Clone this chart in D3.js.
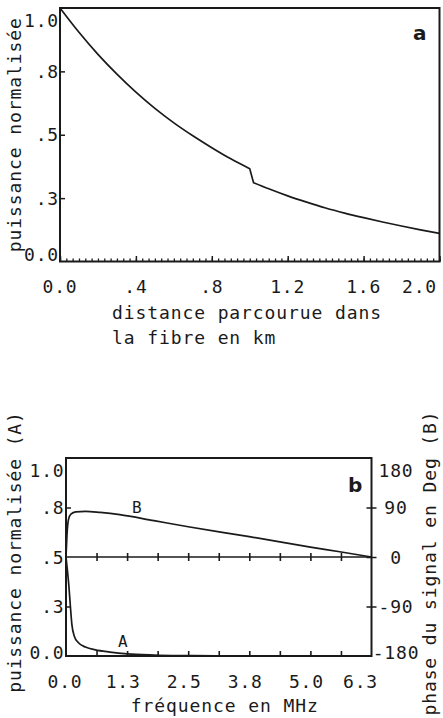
<!DOCTYPE html>
<html>
<head>
<meta charset="utf-8">
<script src="https://cdn.jsdelivr.net/npm/d3@7"></script>
<style>
  body { margin: 0; background: #fff; }
  text { font-family: "DejaVu Sans Mono", monospace; fill: #1a1a1a; letter-spacing: 0.8px; }
</style>
</head>
<body>
<div id="viz"></div>
<script>
var W = 443, H = 718;

// panel a : puissance le long de la fibre (saut a ~1 km)
var distKm    = [0, 0.1, 0.2, 0.3, 0.4, 0.5, 0.6, 0.7, 0.8, 0.9, 1.0, 1.02, 1.1, 1.2, 1.3, 1.4, 1.5, 1.6, 1.7, 1.8, 1.9, 2.0];
var puissDist = [1.0, 0.904, 0.817, 0.739, 0.668, 0.604, 0.547, 0.496, 0.449, 0.405, 0.366, 0.311, 0.287, 0.259, 0.234, 0.211, 0.191, 0.173, 0.156, 0.140, 0.125, 0.111];
var stepIndex = 11; // first point after the step

// panel b : reponse en frequence
var freqA  = [0, 0.03, 0.06, 0.09, 0.12, 0.17, 0.25, 0.4, 0.6, 0.9, 1.25, 1.8, 2.5, 3.5, 6.25];
var puissA = [0.50, 0.43, 0.35, 0.25, 0.16, 0.10, 0.068, 0.045, 0.031, 0.020, 0.011, 0.005, 0.002, 0.0, 0.0];
var freqB  = [0, 0.02, 0.05, 0.1, 0.2, 0.4, 0.7, 1.1, 1.8, 2.5, 3.75, 5.0, 5.6, 6.25];
var phaseB = [0, 40, 68, 78, 82, 83, 81, 77, 66, 55, 37, 18, 9.5, 0];

// ticks
var yTickVals = [0, 0.25, 0.5, 0.75, 1.0];
var yTickLabels = ["0.0", ".3", ".5", ".8", "1.0"];
var distTicks = [0, 0.4, 0.8, 1.2, 1.6, 2.0];
var distLabels = ["0.0", ".4", ".8", "1.2", "1.6", "2.0"];
var freqTicks = [0, 1.25, 2.5, 3.75, 5.0, 6.25];
var freqLabels = ["0.0", "1.3", "2.5", "3.8", "5.0", "6.3"];
var phaseTicks = [-180, -90, 0, 90, 180];
var phaseLabels = ["-180", "-90", "0", "90", "180"];

var ink = "#1a1a1a";

var svg = d3.select("#viz")
    .append("svg")
      .attr("width", W)
      .attr("height", H)
      .style("background-color", "#fff");

function clamp(v, lo, hi) { return Math.max(lo, Math.min(hi, v)); }
function styleTicks(w) {
  return function(g) {
    g.select(".domain").remove();
    g.selectAll("line").attr("stroke", ink).attr("stroke-width", w);
  };
}

//---------------- panel a ----------------
var a = { l: 60, t: 8, r: 439.5, b: 261.5 };
var xa = d3.scaleLinear().domain([0, 2.0]).range([a.l, a.r]);
var ya = d3.scaleLinear().domain([0, 1]).range([a.b, a.t]);

// minor ticks every 1/30 km, major every .4 (inward)
var minorDist = d3.range(0, 61).map(function(i) { return i / 30; });
svg.append("g")
    .attr("transform", "translate(0," + a.b + ")")
    .call(d3.axisBottom(xa).tickValues(minorDist).tickSize(-3).tickSizeOuter(0).tickFormat(""))
    .call(styleTicks(1.3));
svg.append("g")
    .attr("transform", "translate(0," + a.b + ")")
    .call(d3.axisBottom(xa).tickValues(distTicks).tickSize(-5.5).tickSizeOuter(0).tickFormat(""))
    .call(styleTicks(1.5));

svg.append("g")
    .attr("transform", "translate(" + a.l + ",0)")
    .call(d3.axisLeft(ya).tickValues([0.25, 0.5, 0.75]).tickSize(-5).tickSizeOuter(0).tickFormat(""))
    .call(styleTicks(1.5));

svg.append("rect")
    .attr("x", a.l).attr("y", a.t)
    .attr("width", a.r - a.l).attr("height", a.b - a.t)
    .attr("fill", "none").attr("stroke", ink).attr("stroke-width", 2);

var lineA = d3.line()
    .x(function(d) { return xa(d[0]); })
    .y(function(d) { return ya(d[1]); })
    .curve(d3.curveMonotoneX);
var ptsA = distKm.map(function(d, i) { return [d, puissDist[i]]; });
// two smooth pieces joined by the straight drop
svg.append("path")
    .attr("fill", "none").attr("stroke", ink).attr("stroke-width", 1.7)
    .attr("d", lineA(ptsA.slice(0, stepIndex)) + lineA(ptsA.slice(stepIndex)).replace(/^M/, "L"));

svg.append("g").selectAll("text")
    .data(yTickVals).join("text")
      .attr("x", 59)
      .attr("y", function(d) { return clamp(ya(d), a.t + 12, a.b - 7) + 6.5; })
      .attr("text-anchor", "end").attr("font-size", 18)
      .text(function(d, i) { return yTickLabels[i]; });

svg.append("g").selectAll("text")
    .data(distTicks).join("text")
      .attr("x", function(d) { return clamp(xa(d), a.l - 5, a.r - 20); })
      .attr("y", 293)
      .attr("text-anchor", "middle").attr("font-size", 18)
      .text(function(d, i) { return distLabels[i]; });

svg.append("text")
    .attr("transform", "translate(21," + (a.t + a.b) / 2 + ") rotate(-90)")
    .attr("text-anchor", "middle").attr("font-size", 18).style("letter-spacing", "0.9px")
    .text("puissance normalisée");

svg.append("text").attr("x", 112).attr("y", 319).attr("font-size", 18).style("letter-spacing", "0.9px")
    .text("distance parcourue dans");
svg.append("text").attr("x", 112).attr("y", 344).attr("font-size", 18).style("letter-spacing", "0.9px")
    .text("la fibre en km");

svg.append("text").attr("x", 413).attr("y", 40)
    .style("font-family", "'DejaVu Sans', sans-serif").style("letter-spacing", "0px")
    .attr("font-weight", "bold").attr("font-size", 20)
    .text("a");

//---------------- panel b ----------------
var b = { l: 66, t: 458, r: 371.5, b: 656 };
var xb = d3.scaleLinear().domain([0, 6.25]).range([b.l, b.r]);
var yb = d3.scaleLinear().domain([0, 1]).range([b.b, b.t]);
var yp = d3.scaleLinear().domain([-180, 180]).range([b.b, b.t]);

var freqMinor = d3.range(1, 10).map(function(i) { return i * 0.625; });

// 0 deg line with crossing ticks
svg.append("line")
    .attr("x1", b.l).attr("x2", b.r).attr("y1", yp(0)).attr("y2", yp(0))
    .attr("stroke", ink).attr("stroke-width", 1.7);
svg.append("g")
    .attr("transform", "translate(0," + (yp(0) + 4) + ")")
    .call(d3.axisBottom(xb).tickValues(freqMinor).tickSize(-8).tickSizeOuter(0).tickFormat(""))
    .call(styleTicks(1.6));

svg.append("g")
    .attr("transform", "translate(0," + b.b + ")")
    .call(d3.axisBottom(xb).tickValues(freqMinor).tickSize(-5).tickSizeOuter(0).tickFormat(""))
    .call(styleTicks(1.6));

svg.append("g")
    .attr("transform", "translate(" + b.l + ",0)")
    .call(d3.axisLeft(yb).tickValues([0.25, 0.75]).tickSize(-5).tickSizeOuter(0).tickFormat(""))
    .call(styleTicks(1.5));

svg.append("g")
    .attr("transform", "translate(" + (b.r + 5) + ",0)")
    .call(d3.axisRight(yp).tickValues([-90, 0, 90]).tickSize(-10).tickSizeOuter(0).tickFormat(""))
    .call(styleTicks(1.5));

svg.append("rect")
    .attr("x", b.l).attr("y", b.t)
    .attr("width", b.r - b.l).attr("height", b.b - b.t)
    .attr("fill", "none").attr("stroke", ink).attr("stroke-width", 2);

svg.append("path")
    .datum(freqB.map(function(d, i) { return [d, phaseB[i]]; }))
    .attr("fill", "none").attr("stroke", ink).attr("stroke-width", 1.7)
    .attr("d", d3.line().x(function(d) { return xb(d[0]); }).y(function(d) { return yp(d[1]); }).curve(d3.curveMonotoneX));

svg.append("path")
    .datum(freqA.map(function(d, i) { return [d, puissA[i]]; }))
    .attr("fill", "none").attr("stroke", ink).attr("stroke-width", 1.7)
    .attr("d", d3.line().x(function(d) { return xb(d[0]); }).y(function(d) { return yb(d[1]); }).curve(d3.curveMonotoneX));

svg.append("g").selectAll("text")
    .data(yTickVals).join("text")
      .attr("x", 64.5)
      .attr("y", function(d) { return clamp(yb(d), b.t + 12, b.b - 4) + 6.5; })
      .attr("text-anchor", "end").attr("font-size", 18)
      .text(function(d, i) { return yTickLabels[i]; });

svg.append("g").selectAll("text")
    .data(phaseTicks).join("text")
      .attr("x", 396)
      .attr("y", function(d) { return clamp(yp(d), b.t + 12, b.b - 4) + 6.5; })
      .attr("text-anchor", "middle").attr("font-size", 18)
      .text(function(d, i) { return phaseLabels[i]; });

svg.append("g").selectAll("text")
    .data(freqTicks).join("text")
      .attr("x", function(d) { return clamp(xb(d) - 4, b.l - 1, b.r - 11); })
      .attr("y", 688)
      .attr("text-anchor", "middle").attr("font-size", 18)
      .text(function(d, i) { return freqLabels[i]; });

svg.append("text")
    .attr("x", (b.l + b.r) / 2 + 6).attr("y", 712)
    .attr("text-anchor", "middle").attr("font-size", 18).style("letter-spacing", "0.9px")
    .text("fréquence en MHz");

svg.append("text")
    .attr("transform", "translate(21,552) rotate(-90)")
    .attr("text-anchor", "middle").attr("font-size", 18).style("letter-spacing", "0.9px")
    .text("puissance normalisée (A)");

svg.append("text")
    .attr("transform", "translate(436,563) rotate(-90)")
    .attr("text-anchor", "middle").attr("font-size", 18).style("letter-spacing", "0.9px")
    .text("phase du signal en Deg (B)");

svg.append("text").attr("x", 348).attr("y", 492)
    .style("font-family", "'DejaVu Sans', sans-serif").style("letter-spacing", "0px")
    .attr("font-weight", "bold").attr("font-size", 20)
    .text("b");

svg.append("text").attr("x", 132).attr("y", 513).attr("font-size", 16).text("B");
svg.append("text").attr("x", 118).attr("y", 647).attr("font-size", 16).text("A");
</script>
</body>
</html>
